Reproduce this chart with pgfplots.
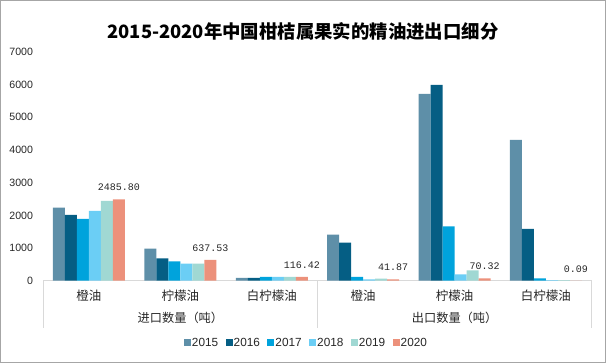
\documentclass[border=0pt]{standalone}
\usepackage{pgfplots}
\pgfplotsset{compat=1.18}
\usepackage{fontspec}
\setmainfont{Liberation Sans}
\newfontfamily\cjk{Noto Sans CJK SC}
\newfontfamily\mono{Liberation Mono}
\definecolor{c15}{HTML}{5E8FA8}
\definecolor{c16}{HTML}{055E84}
\definecolor{c17}{HTML}{00A3DC}
\definecolor{c18}{HTML}{6BCEF5}
\definecolor{c19}{HTML}{A0D8D3}
\definecolor{c20}{HTML}{EC917B}
\definecolor{axgray}{HTML}{D9D9D9}
\begin{document}
\begin{tikzpicture}
\useasboundingbox (-43.3pt,-83.3pt) rectangle (562.7pt,280.7pt);
\begin{axis}[
  at={(0pt,0pt)}, anchor=south west,
  scale only axis, width=548.4pt, height=228.7pt,
  ybar=0pt, bar width=12pt,
  xmin=-0.5, xmax=5.5, ymin=0, ymax=7000,
  xtick={0,1,2,3,4,5},
  xticklabels={橙油,柠檬油,白柠檬油,橙油,柠檬油,白柠檬油},
  xticklabel style={font=\cjk\fontsize{12.5}{13}\selectfont, text=black!85, anchor=center, yshift=-15pt},
  ytick={0,1000,2000,3000,4000,5000,6000,7000},
  yticklabel style={font=\fontsize{10.6}{12}\selectfont, text=black!85, anchor=east, xshift=-6.8pt},
  /pgf/number format/assume math mode=true,
  /pgf/number format/1000 sep={},
  major tick length=0pt,
  axis lines*=left, axis line style={-},
  y axis line style={draw=none},
  x axis line style={draw=axgray, line width=0.8pt},
  clip=false,
  legend columns=6,
  legend image code/.code={\fill[#1] (0pt,-3.5pt) rectangle (7pt,3.5pt);},
  legend style={at={(0.479,-0.2724)}, anchor=center, draw=none, fill=none,
    font=\fontsize{11.8}{13}\selectfont, text=black!85,
    nodes={inner xsep=1pt},
    /tikz/every even column/.append style={column sep=6.5pt}},
]
\addplot[fill=c15, draw=none] coordinates {(0,2240) (1,979) (2,90) (3,1407) (4,5719) (5,4312)};
\addplot[fill=c16, draw=none] coordinates {(0,2018) (1,682) (2,90) (3,1162) (4,5994) (5,1590)};
\addplot[fill=c17, draw=none] coordinates {(0,1896) (1,591) (2,120) (3,120) (4,1661) (5,70)};
\addplot[fill=c18, draw=none] coordinates {(0,2140) (1,520) (2,120) (3,40) (4,194) (5,20)};
\addplot[fill=c19, draw=none] coordinates {(0,2446) (1,520) (2,120) (3,60) (4,316) (5,20)};
\addplot[fill=c20, draw=none,
  nodes near coords={\pgfmathprintnumber[fixed,fixed zerofill,precision=2]{\pgfplotspointmeta}},
  nodes near coords style={font=\mono\fontsize{10}{12}\selectfont, text=black!85, yshift=5pt}]
  coordinates {(0,2485.80) (1,637.53) (2,116.42) (3,41.87) (4,70.32) (5,0.09)};
\legend{2015,2016,2017,2018,2019,2020}
\end{axis}
\draw[axgray, line width=0.8pt] (0pt,0pt) -- (0pt,-47pt);
\draw[axgray, line width=0.8pt] (274.2pt,0pt) -- (274.2pt,-47pt);
\draw[axgray, line width=0.8pt] (548.4pt,0pt) -- (548.4pt,-47pt);
\node[font=\cjk\fontsize{12.2}{13}\selectfont, text=black!85] at (137.1pt,-37.3pt) {进口数量（吨）};
\node[font=\cjk\fontsize{12.2}{13}\selectfont, text=black!85] at (411.3pt,-37.3pt) {出口数量（吨）};
\node[font=\cjk\bfseries\fontsize{18.4}{22}\selectfont] at (259.7pt,249.7pt) {2015-2020年中国柑桔属果实的精油进出口细分};
\draw[gray!70, line width=1pt] (-42.3pt,-82.3pt) rectangle (561.7pt,279.7pt);
\end{tikzpicture}
\end{document}
